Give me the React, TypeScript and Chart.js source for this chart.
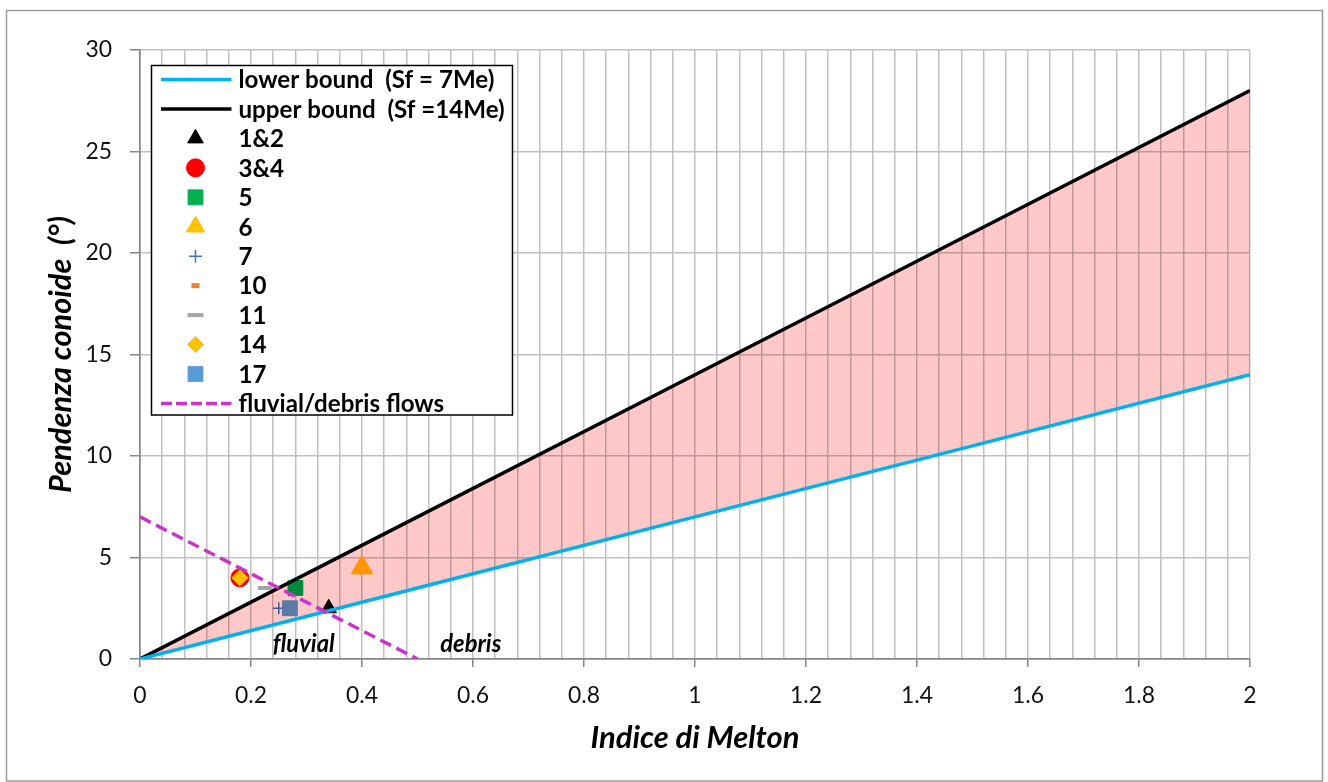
import React, { useEffect, useRef } from 'react';
import { Chart, registerables } from 'chart.js';

Chart.register(...registerables);

// ---------------- data ----------------
const boundX = [0, 0.5, 1, 1.5, 2];
const lowerBoundY = [0, 3.5, 7, 10.5, 14];
const upperBoundY = [0, 7, 14, 21, 28];
const limitX = [0, 0.5];
const limitY = [7, 0];

const siteNames = ['1&2', '3&4', '5', '6', '7', '10', '11', '14', '17'];
const siteMelton = [0.34, 0.18, 0.28, 0.4, 0.25, 0.27, 0.225, 0.18, 0.27];
const siteSlope = [2.5, 4, 3.5, 4.5, 2.5, 2.5, 3.5, 4, 2.5];

const zoneNames = ['fluvial', 'debris'];
const zoneMelton = [0.295, 0.596];
const zoneSlope = [0.7, 0.7];

const lowerName = 'lower bound  (Sf = 7Me)';
const upperName = 'upper bound  (Sf =14Me)';
const limitName = 'fluvial/debris flows';
const xTitle = 'Indice di Melton';
const yTitle = 'Pendenza conoide  (°)';

// ---------------- styles ----------------
const FAMILY = 'Lato, "Open Sans", "DejaVu Sans", sans-serif';
const LOWER_COLOR = '#00B0F0';
const UPPER_COLOR = '#000000';
const LIMIT_COLOR = '#CC33CC';
const BAND_COLOR = 'rgb(255,200,200)';
const GRID_COLOR = '#c0c0c0';
const AXIS_COLOR = '#868686';
const LIMIT_DASH = [12, 6];

type Shape = 'triangle' | 'circle' | 'rect' | 'cross' | 'line' | 'rectRot';
const siteStyles: { shape: Shape; color: string; r: number; lr: number; bw: number }[] = [
  { shape: 'triangle', color: '#000000', r: 9, lr: 9, bw: 1 },
  { shape: 'circle', color: '#FF0000', r: 9, lr: 9, bw: 1 },
  { shape: 'rect', color: '#00B050', r: 10.5, lr: 10.5, bw: 1 },
  { shape: 'triangle', color: '#FFC000', r: 12.5, lr: 10.5, bw: 1 },
  { shape: 'cross', color: '#4472C4', r: 6, lr: 6.5, bw: 1.5 },
  { shape: 'line', color: '#ED7D31', r: 4, lr: 4, bw: 5 },
  { shape: 'line', color: '#A5A5A5', r: 7, lr: 8, bw: 4 },
  { shape: 'rectRot', color: '#FFC000', r: 8, lr: 8, bw: 1 },
  { shape: 'rect', color: '#5B9BD5', r: 10.5, lr: 10.5, bw: 1 },
];

function fitSize(text: string, style: string, target: number, lo: number, hi: number) {
  const c = document.createElement('canvas').getContext('2d');
  if (!c) return (lo + hi) / 2;
  c.font = `${style} 100px ${FAMILY}`;
  const w = c.measureText(text).width;
  const s = w > 0 ? (100 * target) / w : (lo + hi) / 2;
  return Math.max(lo, Math.min(hi, s));
}

function drawMarker(ctx: CanvasRenderingContext2D, shape: Shape, x: number, y: number, r: number, color: string, bw: number) {
  ctx.save();
  ctx.fillStyle = color;
  ctx.strokeStyle = color;
  ctx.lineWidth = bw;
  ctx.beginPath();
  switch (shape) {
    case 'circle':
      ctx.arc(x, y, r, 0, Math.PI * 2);
      ctx.fill();
      ctx.stroke();
      break;
    case 'triangle':
      ctx.moveTo(x, y - r);
      ctx.lineTo(x + 0.866 * r, y + 0.5 * r);
      ctx.lineTo(x - 0.866 * r, y + 0.5 * r);
      ctx.closePath();
      ctx.fill();
      ctx.stroke();
      break;
    case 'rect': {
      const s = r * Math.SQRT1_2;
      ctx.rect(x - s, y - s, 2 * s, 2 * s);
      ctx.fill();
      ctx.stroke();
      break;
    }
    case 'rectRot':
      ctx.moveTo(x, y - r);
      ctx.lineTo(x + r, y);
      ctx.lineTo(x, y + r);
      ctx.lineTo(x - r, y);
      ctx.closePath();
      ctx.fill();
      ctx.stroke();
      break;
    case 'cross':
      ctx.moveTo(x - r, y);
      ctx.lineTo(x + r, y);
      ctx.moveTo(x, y - r);
      ctx.lineTo(x, y + r);
      ctx.stroke();
      break;
    case 'line':
      ctx.moveTo(x - r, y);
      ctx.lineTo(x + r, y);
      ctx.stroke();
      break;
  }
  ctx.restore();
}

const isMajorX = (v: number) => Math.abs(v / 0.2 - Math.round(v / 0.2)) < 1e-6;

export default function App() {
  const canvasRef = useRef<HTMLCanvasElement | null>(null);

  useEffect(() => {
    document.body.style.margin = '0';
    const canvas = canvasRef.current;
    if (!canvas) return;

    const legendSize = fitSize(lowerName, 'bold', 256, 16, 26);
    const titleSize = fitSize(xTitle, 'italic bold', 209, 20, 34);
    const yTitleSize = fitSize(yTitle, 'italic bold', 277, 20, 34);
    const tickSize = fitSize('0.2', 'normal', 32, 18, 26);
    const zoneSize = fitSize('fluvial', 'italic bold', 62, 16, 26);

    const legendEntries: any[] = [
      { kind: 'line', label: lowerName, color: LOWER_COLOR, dash: [] },
      { kind: 'line', label: upperName, color: UPPER_COLOR, dash: [] },
      ...siteNames.map((n, i) => ({ kind: 'marker', label: n, ...siteStyles[i] })),
      { kind: 'line', label: limitName, color: LIMIT_COLOR, dash: [11, 4] },
    ];

    const BAND_INDEX = 3;

    const bgPlugin = {
      id: 'bgBorder',
      beforeDraw(chart: any) {
        const ctx = chart.ctx as CanvasRenderingContext2D;
        ctx.save();
        ctx.fillStyle = '#ffffff';
        ctx.fillRect(0, 0, chart.width, chart.height);
        ctx.strokeStyle = '#9a9a9a';
        ctx.lineWidth = 1.5;
        ctx.strokeRect(6.5, 10.5, chart.width - 6.5 - 5.5, chart.height - 10.5 - 1);
        ctx.restore();
      },
    };

    // the band is blended with "multiply", so the marks and the grid under it darken like in the original
    const blendPlugin = {
      id: 'bandBlend',
      beforeDatasetsDraw(chart: any) {
        const metas = chart.getSortedVisibleDatasetMetas();
        const p = metas.findIndex((m: any) => m.index === BAND_INDEX);
        chart.$prevOfBand = p >= 0 && p + 1 < metas.length ? metas[p + 1].index : -1;
        if (chart.$prevOfBand === -1) chart.ctx.globalCompositeOperation = 'multiply';
      },
      afterDatasetDraw(chart: any, args: any) {
        if (args.index === chart.$prevOfBand) chart.ctx.globalCompositeOperation = 'multiply';
        if (args.index === BAND_INDEX) chart.ctx.globalCompositeOperation = 'source-over';
      },
      afterDatasetsDraw(chart: any) {
        chart.ctx.globalCompositeOperation = 'source-over';
      },
    };

    const zonePlugin = {
      id: 'zoneText',
      afterDatasetsDraw(chart: any) {
        const ctx = chart.ctx as CanvasRenderingContext2D;
        const xs = chart.scales.x;
        const ys = chart.scales.y;
        ctx.save();
        ctx.globalCompositeOperation = 'source-over';
        ctx.font = `italic bold ${zoneSize}px ${FAMILY}`;
        ctx.fillStyle = '#000';
        ctx.textAlign = 'center';
        ctx.textBaseline = 'middle';
        zoneNames.forEach((t, i) => {
          ctx.fillText(t, xs.getPixelForValue(zoneMelton[i]), ys.getPixelForValue(zoneSlope[i]));
        });
        ctx.restore();
      },
    };

    const legendPlugin = {
      id: 'boxLegend',
      afterDraw(chart: any) {
        const ctx = chart.ctx as CanvasRenderingContext2D;
        const a = chart.chartArea;
        const L = a.left + 11.5;
        const T = a.top + 15.5;
        const W = 361;
        const H = 349.5;
        ctx.save();
        ctx.globalCompositeOperation = 'source-over';
        ctx.fillStyle = '#ffffff';
        ctx.fillRect(L, T, W, H);
        ctx.strokeStyle = '#000';
        ctx.lineWidth = 1.5;
        ctx.strokeRect(L, T, W, H);
        legendEntries.forEach((e, i) => {
          const cy = T + 14 + i * 29.45;
          if (e.kind === 'line') {
            ctx.save();
            ctx.beginPath();
            ctx.setLineDash(e.dash);
            ctx.lineWidth = 3.5;
            ctx.strokeStyle = e.color;
            ctx.moveTo(L + 9.5, cy);
            ctx.lineTo(L + 80, cy);
            ctx.stroke();
            ctx.restore();
          } else {
            drawMarker(ctx, e.shape, L + 44, cy, e.lr, e.color, e.bw);
          }
          ctx.fillStyle = '#000';
          ctx.font = `bold ${legendSize}px ${FAMILY}`;
          ctx.textAlign = 'left';
          ctx.textBaseline = 'middle';
          ctx.fillText(e.label, L + 87, cy + 1);
        });
        ctx.restore();
      },
    };

    const lineDs = (label: string, xs: number[], ys: number[], color: string, dash: number[], width: number, order: number) => ({
      type: 'line',
      label,
      data: xs.map((x, i) => ({ x, y: ys[i] })),
      borderColor: color,
      backgroundColor: color,
      borderWidth: width,
      borderDash: dash,
      pointRadius: 0,
      tension: 0,
      fill: false,
      order,
    });

    const datasets: any[] = [
      lineDs(lowerName, boundX, lowerBoundY, LOWER_COLOR, [], 3.5, 1),
      lineDs(upperName, boundX, upperBoundY, UPPER_COLOR, [], 3.5, 1),
      lineDs(limitName, limitX, limitY, LIMIT_COLOR, LIMIT_DASH, 3.5, 0),
      {
        type: 'line',
        label: 'band',
        data: boundX.map((x, i) => ({ x, y: upperBoundY[i] })),
        borderWidth: 0,
        borderColor: 'rgba(0,0,0,0)',
        backgroundColor: BAND_COLOR,
        pointRadius: 0,
        tension: 0,
        fill: { target: 0 },
        order: 5,
      },
      ...siteNames.map((n, i) => {
        const s = siteStyles[i];
        const filled = s.shape !== 'cross' && s.shape !== 'line';
        return {
          type: 'line',
          label: n,
          data: [{ x: siteMelton[i], y: siteSlope[i] }],
          showLine: false,
          fill: false,
          pointStyle: s.shape,
          pointRadius: s.r,
          pointBackgroundColor: filled ? s.color : 'rgba(0,0,0,0)',
          pointBorderColor: s.color,
          pointBorderWidth: s.bw,
          backgroundColor: s.color,
          borderColor: s.color,
          order: 30 - i,
        };
      }),
    ];

    const tickPadX = 695 - tickSize * 0.56 - 667;

    const chart = new Chart(canvas, {
      type: 'line',
      data: { datasets },
      options: {
        responsive: false,
        animation: false,
        events: [],
        layout: { padding: { left: 0, top: 50, right: 78, bottom: 0 } },
        plugins: {
          legend: { display: false },
          tooltip: { enabled: false },
          filler: { propagate: false },
        },
        scales: {
          x: {
            type: 'linear',
            min: 0,
            max: 2,
            afterFit: (s: any) => {
              s.height = 123;
            },
            ticks: {
              stepSize: 0.04,
              maxTicksLimit: 200,
              autoSkip: false,
              maxRotation: 0,
              minRotation: 0,
              padding: tickPadX,
              color: '#111',
              font: { family: FAMILY, size: tickSize },
              callback: (v: any) => {
                const n = Number(v);
                return isMajorX(n) ? String(Number(n.toFixed(1))) : '';
              },
            },
            grid: {
              color: (c: any) => (c.tick && Math.abs(c.tick.value) < 1e-9 ? AXIS_COLOR : GRID_COLOR),
              lineWidth: 1.5,
              tickLength: 8,
              tickColor: (c: any) => (c.tick && isMajorX(c.tick.value) ? AXIS_COLOR : 'rgba(0,0,0,0)'),
              tickWidth: 1.5,
            },
            border: { color: AXIS_COLOR, width: 1.5 },
            title: {
              display: true,
              text: xTitle,
              color: '#000',
              font: { family: FAMILY, size: titleSize, weight: 'bold', style: 'italic' },
              padding: { top: 0, bottom: 782 - 738 - (titleSize * 1.2) / 2 },
            },
          },
          y: {
            type: 'linear',
            min: 0,
            max: 30,
            afterFit: (s: any) => {
              s.width = 140;
            },
            ticks: {
              stepSize: 5,
              padding: 18,
              crossAlign: 'near',
              color: '#111',
              font: { family: FAMILY, size: tickSize },
            },
            grid: {
              color: (c: any) => (c.tick && Math.abs(c.tick.value) < 1e-9 ? AXIS_COLOR : GRID_COLOR),
              lineWidth: 1.5,
              tickLength: 10,
              tickColor: AXIS_COLOR,
              tickWidth: 1.5,
            },
            border: { color: AXIS_COLOR, width: 1.5 },
            title: {
              display: true,
              text: yTitle,
              color: '#000',
              font: { family: FAMILY, size: yTitleSize, weight: 'bold', style: 'italic' },
              padding: { top: 61.5 - (yTitleSize * 1.2) / 2, bottom: 0 },
            },
          },
        },
      } as any,
      plugins: [bgPlugin, blendPlugin, zonePlugin, legendPlugin],
    } as any);

    return () => {
      chart.destroy();
    };
  }, []);

  return (
    <div style={{ width: 1328, height: 782, position: 'relative' }}>
      <canvas ref={canvasRef} width={1328} height={782} style={{ display: 'block' }} />
    </div>
  );
}
